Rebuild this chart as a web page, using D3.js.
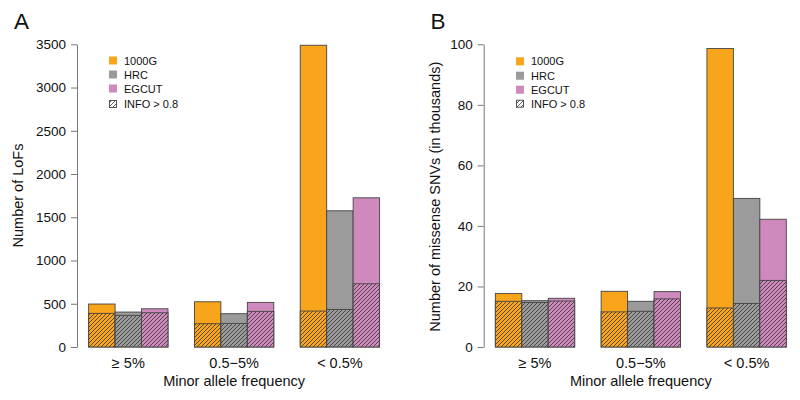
<!DOCTYPE html>
<html><head><meta charset="utf-8">
<script src="https://cdn.jsdelivr.net/npm/d3@7"></script>
<style>
body{margin:0;background:#fff;}
text{font-family:"Liberation Sans",Arial,sans-serif;fill:#111;}
</style></head>
<body>
<svg id="chart" width="800" height="400"></svg>
<script>
const categories = ["\u2265 5%", "0.5\u22125%", "< 0.5%"];
const series = ["1000G", "HRC", "EGCUT"];
const colors = ["#F9A51C", "#9B9B9B", "#CE89BD"];
// LoFs: totals and INFO>0.8 per category (rows) and series (cols)
const lofTotal = [[497, 404, 442], [523, 385, 516], [3489, 1575, 1725]];
const lofInfo  = [[389, 366, 396], [269, 273, 412], [416, 435, 731]];
const lofTicks = [0, 500, 1000, 1500, 2000, 2500, 3000, 3500];
// Missense SNVs (thousands)
const misTotal = [[17.7, 15.3, 16.1], [18.4, 15.1, 18.3], [98.6, 49.1, 42.2]];
const misInfo  = [[15.1, 14.7, 15.2], [11.6, 11.8, 15.9], [12.9, 14.4, 22.0]];
const misTicks = [0, 20, 40, 60, 80, 100];
const legendLabels = ["1000G", "HRC", "EGCUT", "INFO > 0.8"];

const svg = d3.select("#chart");
const defs = svg.append("defs");
const pat = defs.append("pattern").attr("id", "hatch")
  .attr("patternUnits", "userSpaceOnUse").attr("width", 4).attr("height", 4);
pat.append("path").attr("d", "M-1,1 l2,-2 M0,4 l4,-4 M3,5 l2,-2")
  .attr("stroke", "#2a2a2a").attr("stroke-width", 0.75);

function panel(opts) {
  const g = svg.append("g");
  const x = d3.scaleLinear().domain([0.56, 12.44]).range([opts.x0, opts.x0 + 11.88 * 26.45]);
  const y = d3.scaleLinear().domain([0, opts.ymax]).range([347, 44.3]);

  const ax = g.append("g").attr("transform", `translate(${opts.x0},0)`)
    .call(d3.axisLeft(y).tickValues(opts.ticks).tickFormat(d3.format("d"))
      .tickSize(6).tickSizeOuter(0).tickPadding(5));
  ax.selectAll("path,line").attr("stroke", "#777");
  ax.selectAll("text").style("font-size", "13.5px").style("font-family", '"Liberation Sans",Arial,sans-serif').attr("fill", "#111");

  categories.forEach((c, gi) => {
    series.forEach((s, j) => {
      const l = 1 + gi * 4 + j;
      const bx = x(l), bw = x(l + 1) - x(l);
      const tot = opts.total[gi][j], inf = opts.info[gi][j];
      g.append("rect").attr("x", bx).attr("width", bw)
        .attr("y", y(tot)).attr("height", y(0) - y(tot))
        .attr("fill", colors[j]).attr("stroke", "#444").attr("stroke-width", 0.9);
      g.append("rect").attr("x", bx).attr("width", bw)
        .attr("y", y(inf)).attr("height", y(0) - y(inf))
        .attr("fill", colors[j]).attr("stroke", "none");
      g.append("rect").attr("x", bx).attr("width", bw)
        .attr("y", y(inf)).attr("height", y(0) - y(inf))
        .attr("fill", "url(#hatch)").attr("stroke", "#444").attr("stroke-width", 0.9);
    });
    g.append("text").attr("x", x(1 + gi * 4 + 1.5)).attr("y", 367.5)
      .attr("text-anchor", "middle").style("font-size", "14.5px").text(c);
  });

  g.append("text").attr("x", (x.range()[0] + x.range()[1]) / 2).attr("y", 386)
    .attr("text-anchor", "middle").style("font-size", "14.5px").text("Minor allele frequency");
  g.append("text").attr("transform", `translate(${opts.titleX},${opts.titleY}) rotate(-90)`)
    .attr("text-anchor", "middle").style("font-size", "14.5px").text(opts.title);
  g.append("text").attr("x", opts.labX).attr("y", 29.3).style("font-size", "22.5px").text(opts.lab);

  legendLabels.forEach((t, i) => {
    const cy = opts.legY[i];
    if (i < 3) {
      g.append("rect").attr("x", opts.legX).attr("y", cy - 4).attr("width", 8).attr("height", 8)
        .attr("fill", colors[i]);
    } else {
      g.append("rect").attr("x", opts.legX + 0.5).attr("y", cy - 3.5).attr("width", 7).attr("height", 7)
        .attr("fill", "url(#hatch)").attr("stroke", "#444").attr("stroke-width", 0.9);
    }
    g.append("text").attr("x", opts.legX + 15).attr("y", cy + 4).style("font-size", "11px").text(t);
  });
}

panel({x0: 77, ymax: 3500, ticks: lofTicks, total: lofTotal, info: lofInfo,
  title: "Number of LoFs", titleX: 23.3, titleY: 195.5, lab: "A", labX: 14,
  legX: 109, legY: [60.5, 74.5, 88.5, 104]});
panel({x0: 483.7, ymax: 100, ticks: misTicks, total: misTotal, info: misInfo,
  title: "Number of missense SNVs (in thousands)", titleX: 439.5, titleY: 196.7, lab: "B", labX: 430.5,
  legX: 516, legY: [61.3, 75.7, 89.7, 103.7]});
</script>
</body></html>
